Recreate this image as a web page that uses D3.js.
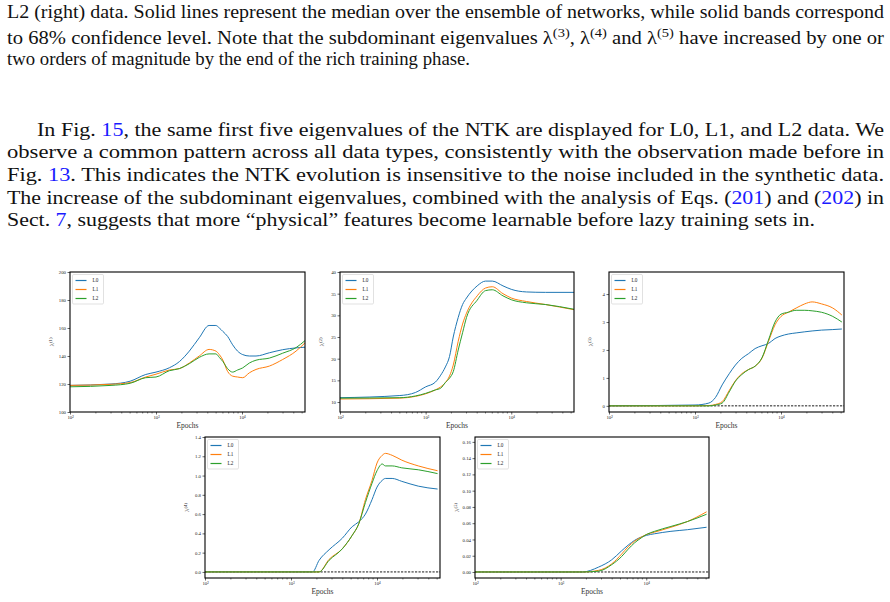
<!DOCTYPE html>
<html><head><meta charset="utf-8">
<script src="https://cdn.jsdelivr.net/npm/d3@7"></script>
<style>body{margin:0;background:#fff}svg{display:block}svg text{font-family:"Liberation Serif","Times New Roman","DejaVu Serif",serif}</style>
</head><body>
<svg id="c" width="890" height="602"></svg>
<script>
// ---- data ----
const seriesNames = ["L0", "L1", "L2"];
const epochs1 = [100,300,500,760,1000,1430,1870,2440,3180,4140,4970,5450,6000,6800,7780,8870,10190,12170,14550,20800,29700,42500,54000];
const lam1_L0 = [119,120,122,126.8,128.5,131.6,136,143.5,153,161.8,161.8,160,157.5,154,148,143.5,141,140,140,142.3,144.5,145.8,146.3];
const lam1_L1 = [119,119.8,121,125,127,130,131,135,140,144.7,143.5,141,137,129,125.6,125,124.5,128,130.4,132.8,137.5,143.5,149.4];
const lam1_L2 = [118,119,120.5,124.5,125,129.5,131,134.5,139,141.5,141.5,139,136,131,128.5,130,131.5,135,137,138.5,142,146,151];

const epochs2 = [100,500,760,1000,1300,1500,1700,1900,2100,2400,2700,3000,4000,5000,6000,8000,10000,15000,25000,54000];
const lam2_L0 = [11,11.5,12.2,13.5,14.6,16.2,18.1,20.5,25,29.5,32.5,34,36.8,37.9,37.9,36.8,36,35.4,35.3,35.3];
const lam2_L1 = [10.7,10.9,11.3,11.9,12.8,13.5,14.5,16,18.5,24,28,30.5,34.5,36.3,36.6,35,34,33.2,32.5,31.3];
const lam2_L2 = [10.9,11,11.4,12,12.8,13.2,14.5,15.5,17,22,26,29.5,33.5,35.7,35.9,34.5,33.6,32.9,32.5,31.4];

const epochs3 = [100,1000,1450,1730,2070,2500,2950,3500,4200,5000,6000,7140,8520,10000,12160,15000,18900,23000,29500,40000,51000];
const lam3_L0 = [0,0.03,0.1,0.3,0.75,1.15,1.46,1.7,1.87,2.05,2.15,2.23,2.41,2.5,2.57,2.61,2.65,2.68,2.71,2.73,2.75];
const lam3_L1 = [0,0,0.01,0.05,0.15,0.55,0.9,1.15,1.3,1.42,1.7,2.3,2.9,3.2,3.35,3.5,3.65,3.72,3.65,3.5,3.25];
const lam3_L2 = [0,0,0,0.03,0.1,0.5,0.88,1.12,1.3,1.42,1.72,2.35,3.0,3.28,3.35,3.42,3.42,3.4,3.35,3.2,3.0];

const epochs4 = [100,1780,2120,2770,3950,5150,6140,7330,8750,10000,11500,12500,15000,19400,30200,50600];
const lam4_L0 = [0,0,0.12,0.23,0.35,0.47,0.52,0.6,0.75,0.88,0.95,0.97,0.97,0.94,0.89,0.86];
const lam4_L1 = [0,0,0,0.13,0.24,0.38,0.5,0.75,0.95,1.13,1.21,1.23,1.21,1.16,1.10,1.05];
const lam4_L2 = [0,0,0,0.12,0.24,0.38,0.5,0.72,0.92,1.05,1.12,1.1,1.1,1.08,1.06,1.02];

const epochs5 = [100,1800,2770,3950,5150,6140,7330,8750,10000,12500,19400,30200,50600];
const lam5_L0 = [0,0,0.006,0.015,0.026,0.033,0.039,0.043,0.045,0.047,0.050,0.052,0.055];
const lam5_L1 = [0,0,0.002,0.010,0.022,0.031,0.038,0.043,0.046,0.049,0.055,0.062,0.074];
const lam5_L2 = [0,0,0.001,0.009,0.019,0.028,0.036,0.042,0.046,0.050,0.056,0.062,0.071];

const xTicks = [100, 1000, 10000];
const xTickLabels = ["10²", "10³", "10⁴"];
const yTicks1 = [100,120,140,160,180,200];
const yTicks2 = [10,15,20,25,30,35,40];
const yTicks3 = [0,1,2,3,4];
const yTicks4 = [0,0.2,0.4,0.6,0.8,1.0,1.2,1.4];
const yTicks5 = [0,0.02,0.04,0.06,0.08,0.10,0.12,0.14,0.16];

// ---- layout ----
const colors = ["#1f77b4", "#ff7f0e", "#2ca02c"];
const svg = d3.select("#c");

const panels = [
  {x0:70,x1:305,y0:272,y1:412,yd:[100,200],ticks:yTicks1,fmt:d3.format("d"),ep:epochs1,ser:[lam1_L0,lam1_L1,lam1_L2],lab:"1",zero:false},
  {x0:340,x1:574,y0:272,y1:412,yd:[7.7,40],ticks:yTicks2,fmt:d3.format("d"),ep:epochs2,ser:[lam2_L0,lam2_L1,lam2_L2],lab:"2",zero:false},
  {x0:609,x1:844,y0:272,y1:412,yd:[-0.22,4.79],ticks:yTicks3,fmt:d3.format("d"),ep:epochs3,ser:[lam3_L0,lam3_L1,lam3_L2],lab:"3",zero:true},
  {x0:205,x1:440,y0:437,y1:578,yd:[-0.063,1.4],ticks:yTicks4,fmt:d3.format(".1f"),ep:epochs4,ser:[lam4_L0,lam4_L1,lam4_L2],lab:"4",zero:true},
  {x0:475,x1:709,y0:437,y1:578,yd:[-0.0074,0.166],ticks:yTicks5,fmt:d3.format(".2f"),ep:epochs5,ser:[lam5_L0,lam5_L1,lam5_L2],lab:"5",zero:true}
];

panels.forEach(p => {
  const x = d3.scaleLog().domain([100, 54000]).range([p.x0, p.x1]);
  const y = d3.scaleLinear().domain(p.yd).range([p.y1, p.y0]);
  const g = svg.append("g");
  const clipId = "clip" + p.lab;
  g.append("clipPath").attr("id", clipId).append("rect")
    .attr("x", p.x0).attr("y", p.y0).attr("width", p.x1 - p.x0).attr("height", p.y1 - p.y0);
  if (p.zero) {
    g.append("line").attr("x1", p.x0).attr("x2", p.x1).attr("y1", y(0)).attr("y2", y(0))
      .attr("stroke", "#000").attr("stroke-width", 0.9).attr("stroke-dasharray", "2.2,1.3");
  }
  const line = d3.line().x((d, i) => x(p.ep[i])).y(d => y(d)).curve(d3.curveMonotoneX);
  p.ser.forEach((s, k) => {
    g.append("path").attr("d", line(s)).attr("fill", "none")
      .attr("stroke", colors[k]).attr("stroke-width", 1).attr("clip-path", `url(#${clipId})`);
  });
  const ax = d3.axisBottom(x).tickValues(xTicks).tickFormat((d, i) => xTickLabels[i]).tickSize(2.5).tickPadding(1.5);
  const gx = g.append("g").attr("transform", `translate(0,${p.y1})`).call(ax);
  const minor = [];
  for (let dec = 100; dec <= 10000; dec *= 10) for (let m = 2; m <= 9; m++) if (dec*m <= 54000) minor.push(dec*m);
  g.selectAll(".mn").data(minor).enter().append("line")
    .attr("x1", d => x(d)).attr("x2", d => x(d)).attr("y1", p.y1).attr("y2", p.y1 + 1.5)
    .attr("stroke", "#000").attr("stroke-width", 0.5);
  const ay = d3.axisLeft(y).tickValues(p.ticks).tickFormat(p.fmt).tickSize(2.5).tickPadding(1.5);
  const gy = g.append("g").attr("transform", `translate(${p.x0},0)`).call(ay);
  [gx, gy].forEach(a => {
    a.select(".domain").remove();
    a.selectAll("text").attr("font-family", null).attr("font-size", 4.8).attr("fill", "#222");
    a.selectAll(".tick line").attr("stroke-width", 0.6);
  });
  g.append("rect").attr("x", p.x0).attr("y", p.y0).attr("width", p.x1 - p.x0).attr("height", p.y1 - p.y0)
    .attr("fill", "none").attr("stroke", "#000").attr("stroke-width", 1.1);
  g.append("text").attr("x", (p.x0 + p.x1) / 2).attr("y", p.y1 + 16).attr("text-anchor", "middle")
    .attr("font-size", 7.5).attr("fill", "#333").text("Epochs");
  const yl = g.append("text").attr("transform", `translate(${p.x0 - 16},${(p.y0 + p.y1) / 2}) rotate(-90)`)
    .attr("text-anchor", "middle").attr("font-size", 7).attr("fill", "#333");
  yl.append("tspan").text("λ");
  yl.append("tspan").attr("font-size", 4.8).attr("dy", -2.5).text("(" + p.lab + ")");
  const lg = g.append("g").attr("transform", `translate(${p.x0 + 2.5},${p.y0 + 2.5})`);
  lg.append("rect").attr("width", 31).attr("height", 29.5).attr("rx", 1.2)
    .attr("fill", "#fff").attr("stroke", "#ccc").attr("stroke-width", 0.6);
  seriesNames.forEach((n, k) => {
    const yy = 6 + k * 9;
    lg.append("line").attr("x1", 3).attr("x2", 14).attr("y1", yy).attr("y2", yy)
      .attr("stroke", colors[k]).attr("stroke-width", 1.2);
    lg.append("text").attr("x", 20).attr("y", yy + 1.7).attr("font-size", 5.2).attr("fill", "#222").text(n);
  });
});

// ---- page text ----
const blue = "#1a1aff";
function textLine(y, x, width, parts) {
  const t = svg.append("text").attr("x", x).attr("y", y).attr("font-size", 18.5).attr("fill", "#111");
  if (width) t.attr("textLength", width).attr("lengthAdjust", "spacingAndGlyphs");
  parts.forEach(p => {
    const s = t.append("tspan").text(p.t);
    if (p.c) s.attr("fill", p.c);
    if (p.sup) s.attr("font-size", 13).attr("dy", -7);
    if (p.down) s.attr("dy", 7);
  });
}
textLine(18, 7, 877, [{t:"L2 (right) data. Solid lines represent the median over the ensemble of networks, while solid bands correspond"}]);
textLine(44, 7, 877, [{t:"to 68% confidence level. Note that the subdominant eigenvalues λ"},{t:"(3)",sup:1},{t:", λ",down:1},{t:"(4)",sup:1},{t:" and λ",down:1},{t:"(5)",sup:1},{t:" have increased by one or",down:1}]);
textLine(65, 7, 463, [{t:"two orders of magnitude by the end of the rich training phase."}]);

textLine(136, 37, 847, [{t:"In Fig. "},{t:"15",c:blue},{t:", the same first five eigenvalues of the NTK are displayed for L0, L1, and L2 data. We"}]);
textLine(158, 7, 877, [{t:"observe a common pattern across all data types, consistently with the observation made before in"}]);
textLine(181, 7, 877, [{t:"Fig. "},{t:"13",c:blue},{t:". This indicates the NTK evolution is insensitive to the noise included in the synthetic data."}]);
textLine(204, 7, 877, [{t:"The increase of the subdominant eigenvalues, combined with the analysis of Eqs. ("},{t:"201",c:blue},{t:") and ("},{t:"202",c:blue},{t:") in"}]);
textLine(226, 7, 808, [{t:"Sect. "},{t:"7",c:blue},{t:", suggests that more “physical” features become learnable before lazy training sets in."}]);
</script>
</body></html>
